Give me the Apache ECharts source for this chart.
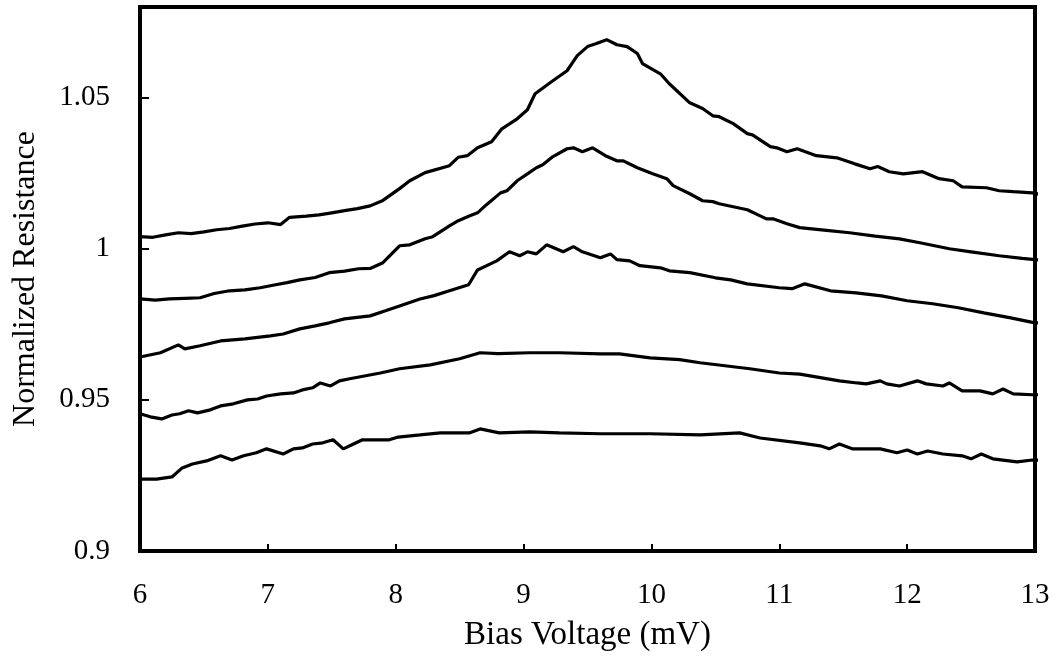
<!DOCTYPE html>
<html>
<head>
<meta charset="utf-8">
<script src="https://cdn.jsdelivr.net/npm/echarts@6/dist/echarts.min.js"></script>
<style>
  html, body { margin: 0; padding: 0; background: #fff; }
  #chart { width: 1057px; height: 657px; }
</style>
</head>
<body>
<div id="chart"></div>
<script>
// Normalized resistance vs. bias voltage, five traces (top to bottom)
const xTicks = [6, 7, 8, 9, 10, 11, 12, 13];
const yLabels = [0.9, 0.95, 1, 1.05];
const yTicks = [0.95, 1, 1.05];

const trace1 = [
  [5.95, 1.0040], [6.0, 1.0040], [6.1, 1.0038], [6.2, 1.0046], [6.3, 1.0053], [6.4, 1.0050],
  [6.5, 1.0056], [6.6, 1.0063], [6.7, 1.0067], [6.8, 1.0075], [6.9, 1.0082], [7.0, 1.0086],
  [7.1, 1.0080], [7.17, 1.0104], [7.3, 1.0108], [7.4, 1.0112], [7.5, 1.0119], [7.6, 1.0126],
  [7.7, 1.0133], [7.8, 1.0142], [7.9, 1.0160], [8.03, 1.0199], [8.11, 1.0225], [8.23, 1.0252],
  [8.42, 1.0275], [8.49, 1.0303], [8.56, 1.0308], [8.64, 1.0334], [8.75, 1.0354], [8.83, 1.0397],
  [8.95, 1.0430], [9.03, 1.0460], [9.09, 1.0513], [9.21, 1.0550], [9.34, 1.0589], [9.42, 1.0639],
  [9.50, 1.0669], [9.57, 1.0679], [9.65, 1.0692], [9.73, 1.0675], [9.81, 1.0669], [9.89, 1.0646],
  [9.93, 1.0613], [10.07, 1.0579], [10.14, 1.0546], [10.30, 1.0483], [10.40, 1.0464], [10.48, 1.0440],
  [10.53, 1.0437], [10.64, 1.0414], [10.75, 1.0381], [10.79, 1.0377], [10.93, 1.0338], [10.98, 1.0334],
  [11.06, 1.0321], [11.14, 1.0331], [11.29, 1.0308], [11.45, 1.0301], [11.59, 1.0281], [11.71, 1.0265],
  [11.77, 1.0272], [11.86, 1.0255], [11.97, 1.0248], [12.12, 1.0255], [12.25, 1.0232], [12.36, 1.0225],
  [12.43, 1.0205], [12.62, 1.0202], [12.72, 1.0192], [12.83, 1.0189], [12.98, 1.0185], [13.05, 1.0179]
];

const trace2 = [
  [5.95, 0.9834], [6.0, 0.9834], [6.12, 0.9830], [6.23, 0.9834], [6.35, 0.9836], [6.47, 0.9838],
  [6.58, 0.9852], [6.7, 0.9861], [6.82, 0.9864], [6.94, 0.9871], [7.05, 0.9880], [7.15, 0.9888],
  [7.25, 0.9897], [7.37, 0.9905], [7.48, 0.9921], [7.6, 0.9926], [7.71, 0.9934], [7.8, 0.9935],
  [7.9, 0.9954], [8.03, 1.0010], [8.11, 1.0013], [8.23, 1.0033], [8.29, 1.0040], [8.42, 1.0076],
  [8.49, 1.0093], [8.58, 1.0109], [8.64, 1.0119], [8.71, 1.0146], [8.82, 1.0185], [8.87, 1.0192],
  [8.95, 1.0225], [9.03, 1.0248], [9.10, 1.0268], [9.15, 1.0278], [9.23, 1.0305], [9.34, 1.0331],
  [9.39, 1.0334], [9.46, 1.0321], [9.54, 1.0334], [9.64, 1.0308], [9.73, 1.0291], [9.78, 1.0291],
  [9.89, 1.0268], [10.01, 1.0248], [10.12, 1.0232], [10.17, 1.0209], [10.30, 1.0182], [10.40, 1.0159],
  [10.48, 1.0156], [10.53, 1.0149], [10.64, 1.0139], [10.75, 1.0129], [10.85, 1.0109], [10.90, 1.0099],
  [10.95, 1.0099], [11.06, 1.0083], [11.16, 1.0070], [11.35, 1.0062], [11.55, 1.0053], [11.75, 1.0042],
  [11.94, 1.0033], [12.1, 1.0020], [12.33, 1.0000], [12.5, 0.9990], [12.72, 0.9977], [12.9, 0.9968],
  [13.0, 0.9964], [13.05, 0.9963]
];

const trace3 = [
  [5.95, 0.9642], [6.0, 0.9642], [6.16, 0.9656], [6.3, 0.9682], [6.35, 0.9669], [6.47, 0.9679],
  [6.63, 0.9695], [6.82, 0.9702], [7.02, 0.9712], [7.12, 0.9718], [7.25, 0.9735], [7.37, 0.9745],
  [7.48, 0.9755], [7.6, 0.9768], [7.8, 0.9778], [7.92, 0.9795], [8.03, 0.9811], [8.19, 0.9834],
  [8.3, 0.9845], [8.42, 0.9861], [8.57, 0.9881], [8.64, 0.9930], [8.79, 0.9960], [8.89, 0.9990],
  [8.97, 0.9977], [9.03, 0.9990], [9.10, 0.9983], [9.18, 1.0013], [9.31, 0.9990], [9.39, 1.0007],
  [9.46, 0.9990], [9.60, 0.9970], [9.68, 0.9983], [9.73, 0.9964], [9.83, 0.9960], [9.91, 0.9944],
  [10.07, 0.9937], [10.14, 0.9927], [10.3, 0.9921], [10.5, 0.9904], [10.62, 0.9897], [10.75, 0.9884],
  [11.0, 0.9871], [11.1, 0.9868], [11.2, 0.9884], [11.4, 0.9861], [11.6, 0.9854], [11.8, 0.9844],
  [12.0, 0.9828], [12.2, 0.9818], [12.4, 0.9805], [12.6, 0.9788], [12.8, 0.9772], [13.0, 0.9755],
  [13.05, 0.9754]
];

const trace4 = [
  [5.95, 0.9454], [6.0, 0.9454], [6.08, 0.9444], [6.17, 0.9437], [6.25, 0.9450], [6.31, 0.9454],
  [6.38, 0.9464], [6.45, 0.9457], [6.55, 0.9467], [6.63, 0.9480], [6.73, 0.9487], [6.84, 0.9500],
  [6.92, 0.9503], [6.99, 0.9513], [7.10, 0.9520], [7.20, 0.9523], [7.27, 0.9533], [7.35, 0.9540],
  [7.41, 0.9556], [7.49, 0.9546], [7.56, 0.9563], [7.64, 0.9570], [7.88, 0.9589], [8.03, 0.9603],
  [8.27, 0.9616], [8.5, 0.9636], [8.66, 0.9656], [8.8, 0.9653], [9.05, 0.9656], [9.28, 0.9656],
  [9.6, 0.9652], [9.75, 0.9652], [9.99, 0.9639], [10.22, 0.9633], [10.38, 0.9623], [10.77, 0.9603],
  [11.0, 0.9589], [11.16, 0.9585], [11.47, 0.9563], [11.61, 0.9556], [11.68, 0.9553], [11.79, 0.9563],
  [11.84, 0.9553], [11.94, 0.9546], [12.08, 0.9563], [12.15, 0.9553], [12.28, 0.9546], [12.33, 0.9556],
  [12.43, 0.9530], [12.57, 0.9530], [12.67, 0.9520], [12.75, 0.9536], [12.83, 0.9520], [12.98, 0.9517],
  [13.05, 0.9517]
];

const trace5 = [
  [5.95, 0.9238], [6.0, 0.9238], [6.13, 0.9238], [6.25, 0.9245], [6.33, 0.9275], [6.41, 0.9288],
  [6.52, 0.9298], [6.63, 0.9315], [6.72, 0.9301], [6.81, 0.9315], [6.91, 0.9325], [6.99, 0.9338],
  [7.12, 0.9321], [7.20, 0.9338], [7.27, 0.9341], [7.35, 0.9354], [7.43, 0.9358], [7.51, 0.9368],
  [7.59, 0.9338], [7.67, 0.9354], [7.74, 0.9368], [7.85, 0.9368], [7.95, 0.9368], [8.02, 0.9377],
  [8.19, 0.9384], [8.35, 0.9391], [8.58, 0.9391], [8.66, 0.9404], [8.81, 0.9391], [9.05, 0.9394],
  [9.28, 0.9391], [9.6, 0.9388], [9.99, 0.9388], [10.38, 0.9384], [10.69, 0.9391], [10.85, 0.9374],
  [11.16, 0.9358], [11.32, 0.9348], [11.39, 0.9338], [11.47, 0.9354], [11.57, 0.9338], [11.79, 0.9338],
  [11.92, 0.9325], [12.0, 0.9334], [12.08, 0.9321], [12.16, 0.9331], [12.28, 0.9321], [12.43, 0.9315],
  [12.5, 0.9305], [12.58, 0.9321], [12.67, 0.9305], [12.86, 0.9295], [12.98, 0.9301], [13.05, 0.9300]
];

const traces = [trace1, trace2, trace3, trace4, trace5];

const font = '"Liberation Serif", "Times New Roman", serif';
const chart = echarts.init(document.getElementById('chart'), null, { renderer: 'canvas' });

chart.setOption({
  animation: false,
  backgroundColor: '#ffffff',
  grid: {
    left: 140, right: 22, top: 7, bottom: 106,
    containLabel: false, outerBoundsMode: 'none',
    show: true, borderColor: '#000', borderWidth: 4
  },
  xAxis: {
    type: 'value', min: 6, max: 13, interval: 1,
    name: 'Bias Voltage (mV)', nameLocation: 'middle', nameGap: 68,
    nameTextStyle: { fontFamily: font, fontSize: 33, color: '#000' },
    axisLine: { show: true, lineStyle: { color: '#000', width: 4 } },
    axisTick: { show: true, inside: true, length: 7, lineStyle: { color: '#000', width: 2 } },
    axisLabel: { margin: 30, fontFamily: font, fontSize: 29, color: '#000' },
    splitLine: { show: false }
  },
  yAxis: {
    type: 'value', min: 0.9, max: 1.08,
    name: 'Normalized Resistance', nameLocation: 'middle', nameGap: 98, nameRotate: 90,
    nameTextStyle: { fontFamily: font, fontSize: 32, color: '#000' },
    axisLine: { show: true, lineStyle: { color: '#000', width: 4 } },
    axisTick: { show: true, inside: true, length: 9, lineStyle: { color: '#000', width: 2 }, customValues: yTicks },
    axisLabel: { margin: 30, fontFamily: font, fontSize: 29, color: '#000', customValues: yLabels,
      formatter: v => String(Math.round(v * 100) / 100) },
    splitLine: { show: false }
  },
  series: traces.map(t => ({
    type: 'line', data: t, showSymbol: false, clip: false,
    lineStyle: { color: '#000', width: 3.2 }
  }))
});
</script>
</body>
</html>
